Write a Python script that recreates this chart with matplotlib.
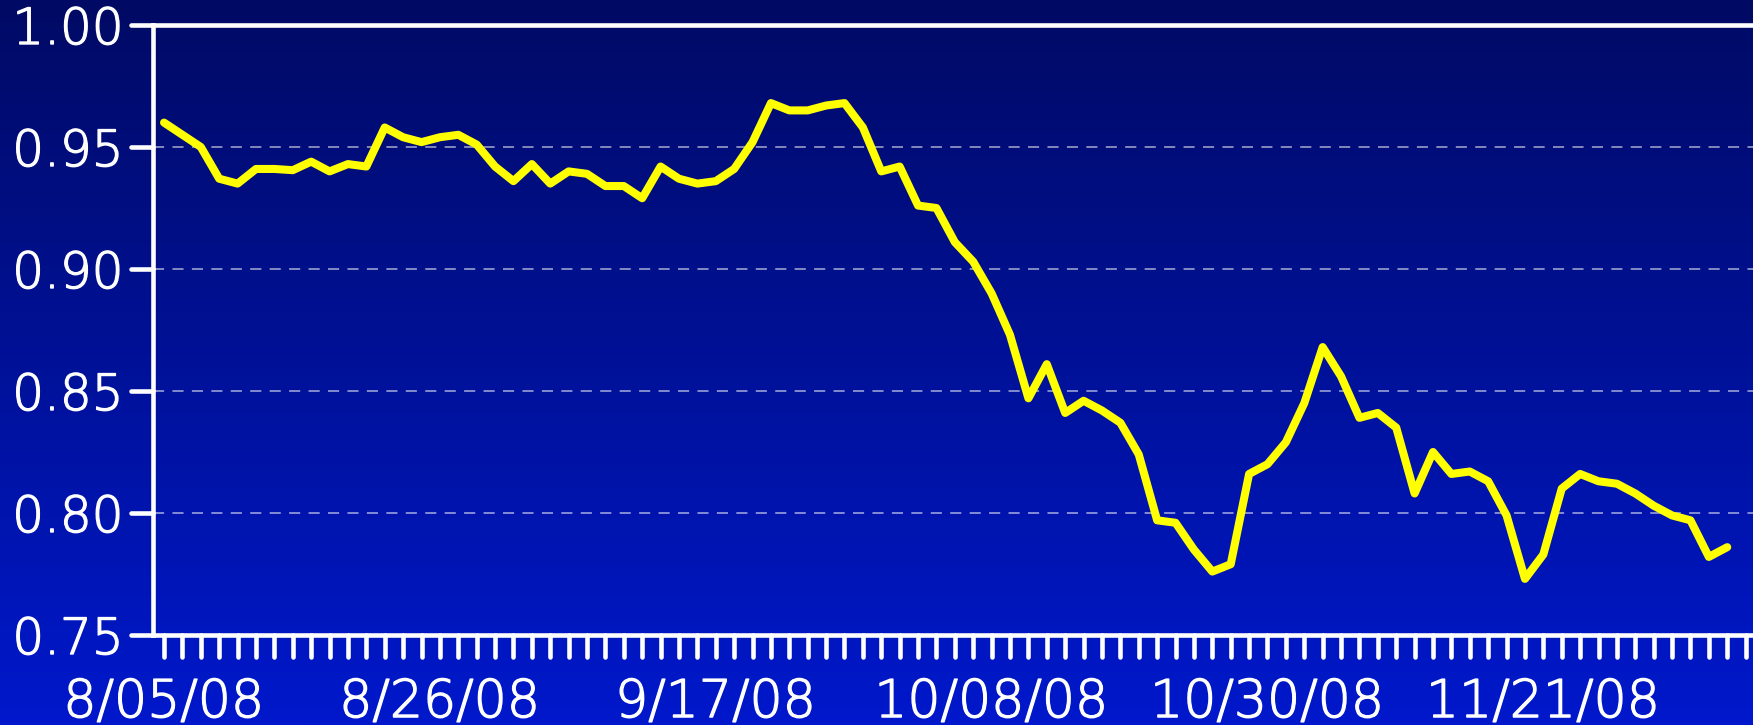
import numpy as np
import matplotlib
matplotlib.use('Agg')
import matplotlib.pyplot as plt
import matplotlib.patheffects as pe
from matplotlib.ticker import FixedLocator, FormatStrFormatter
from matplotlib.markers import MarkerStyle, TICKDOWN, TICKLEFT

# closing values, one per trading day from 8/05/08
values = [
    0.960, 0.955, 0.950, 0.937, 0.935, 0.941, 0.941, 0.9405, 0.944, 0.940,
    0.943, 0.942, 0.958, 0.954, 0.952, 0.954, 0.955, 0.951, 0.942, 0.936,
    0.943, 0.935, 0.940, 0.939, 0.934, 0.934, 0.929, 0.942, 0.937, 0.935,
    0.936, 0.941, 0.952, 0.968, 0.965, 0.965, 0.967, 0.968, 0.958, 0.940,
    0.942, 0.926, 0.925, 0.911, 0.903, 0.890, 0.873, 0.847, 0.861, 0.841,
    0.846, 0.842, 0.837, 0.824, 0.797, 0.796, 0.785, 0.776, 0.779, 0.816,
    0.820, 0.829, 0.845, 0.868, 0.856, 0.839, 0.841, 0.835, 0.808, 0.825,
    0.816, 0.817, 0.813, 0.799, 0.773, 0.783, 0.810, 0.816, 0.813, 0.812,
    0.808, 0.803, 0.799, 0.797, 0.782, 0.786,
]
tick_labels = ['8/05/08', '8/26/08', '9/17/08', '10/08/08', '10/30/08', '11/21/08']
label_step = 15
yticks = [0.75, 0.80, 0.85, 0.90, 0.95, 1.00]

plt.rcParams['font.family'] = ['DejaVu Sans']
plt.rcParams['font.weight'] = 'light'
plt.rcParams['lines.scale_dashes'] = False

fig = plt.figure(figsize=(17.53, 7.25), dpi=100)

# background gradient, dark navy at top to bright blue at bottom
bg = fig.add_axes([0, 0, 1, 1], zorder=-1)
top = np.array([0, 10, 100]) / 255
bottom = np.array([0, 24, 204]) / 255
t = np.linspace(0, 1, 256)[:, None]
grad = top + (bottom - top) * t
bg.imshow(grad[:, None, :].repeat(2, axis=1), aspect='auto', extent=[0, 1, 0, 1])
bg.set_axis_off()

ax = fig.add_axes([153 / 1753, 90 / 725, 1 - 153 / 1753, 610 / 725])
ax.set_facecolor('none')

x = np.arange(len(values))
ax.plot(x, values, color='#ffff00', lw=5.8, solid_joinstyle='round',
        solid_capstyle='round', zorder=3)

ax.set_xlim(-0.6, 86.4)
ax.set_ylim(0.75, 1.00)

ax.set_yticks(yticks)
ax.yaxis.set_major_formatter(FormatStrFormatter('%.2f'))
ax.set_xticks(np.arange(len(tick_labels)) * label_step)
ax.set_xticklabels(tick_labels)
ax.xaxis.set_minor_locator(FixedLocator(np.arange(0, 87)))

for y in yticks[1:-1]:
    ax.axhline(y, color=(1, 1, 1, 0.6), lw=1.2, linestyle=(0, (8, 6)), zorder=1)

ax.tick_params(axis='both', which='both', colors='white', width=3.3, length=16,
               direction='out')
ax.tick_params(axis='y', labelsize=36, pad=5)
ax.tick_params(axis='x', labelsize=37.5, pad=15)

# slightly heavier strokes than the extra-light face
thicken = [pe.withStroke(linewidth=1.0, foreground='white')]
for lbl in ax.get_xticklabels() + ax.get_yticklabels():
    lbl.set_path_effects(thicken)

# rounded tick ends
for tk in ax.xaxis.get_major_ticks() + ax.xaxis.get_minor_ticks():
    tk.tick1line.set_marker(MarkerStyle(TICKDOWN, capstyle='round'))
for tk in ax.yaxis.get_major_ticks():
    tk.tick1line.set_marker(MarkerStyle(TICKLEFT, capstyle='round'))

for side in ['left', 'top', 'bottom']:
    ax.spines[side].set_color('white')
    ax.spines[side].set_linewidth(3.3)
ax.spines['right'].set_visible(False)
for s in ax.spines.values():
    s.set_clip_on(False)

fig.savefig('out.png', dpi=100)
